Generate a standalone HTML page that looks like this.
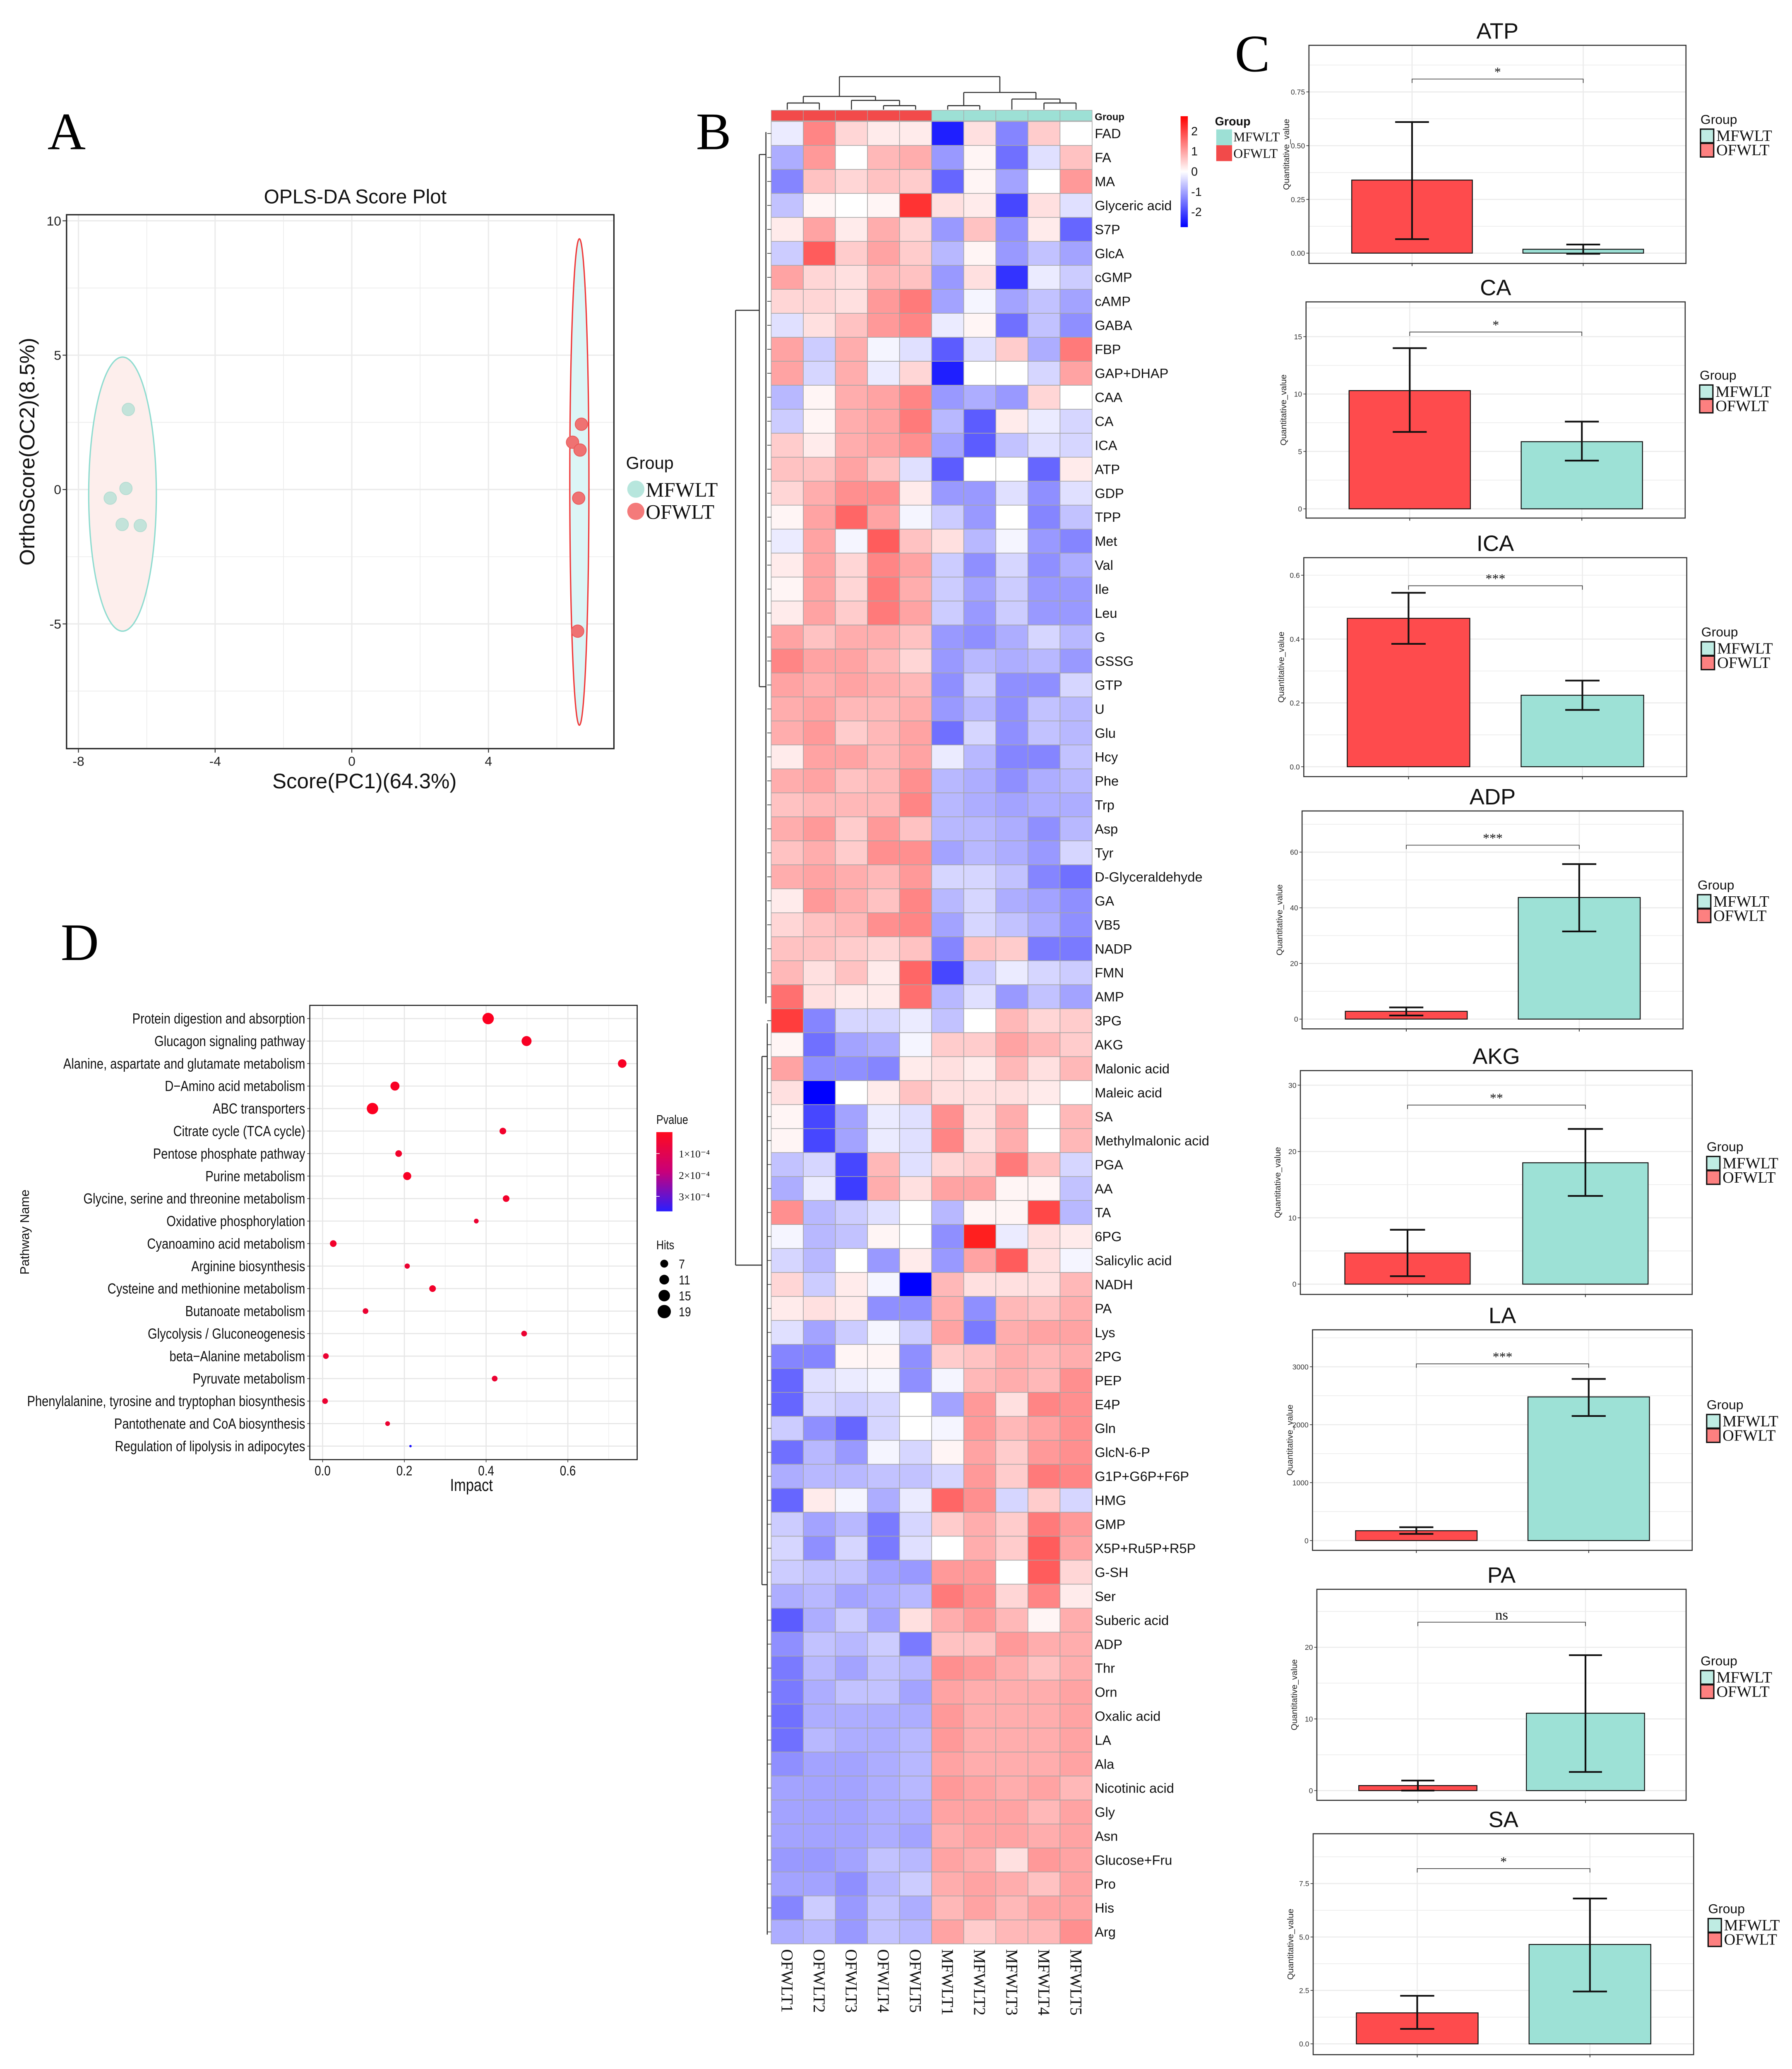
<!DOCTYPE html>
<html><head><meta charset="utf-8"><title>Metabolomics figure</title>
<style>
html,body{margin:0;padding:0;background:#fff;width:4330px;height:5004px;overflow:hidden;}
svg{display:block;}
text{font-family:"Liberation Sans",sans-serif;}
.serif{font-family:"Liberation Serif",serif;}
.narrow{font-family:"Liberation Sans Narrow","Liberation Sans",sans-serif;}
</style></head>
<body>
<svg id="fig" xmlns="http://www.w3.org/2000/svg" width="4330" height="5004" viewBox="0 0 1357 1568" preserveAspectRatio="none">
<rect x="0" y="0" width="1357" height="1568" fill="#fff"/>
<text class="serif" x="36" y="113" font-size="40">A</text>
<text class="serif" x="527" y="113" font-size="40">B</text>
<text class="serif" x="935" y="54" font-size="40">C</text>
<text class="serif" x="46" y="727" font-size="40">D</text>
</svg>
<script>
// ---------- Panel A data ----------
const scoreGroups = ['MFWLT','OFWLT'];
const mfScoreX = [-6.54,-6.61,-7.07,-6.72,-6.19];
const mfScoreY = [2.98,0.04,-0.32,-1.30,-1.34];
const ofScoreX = [6.72,6.46,6.68,6.64,6.61];
const ofScoreY = [2.43,1.76,1.47,-0.32,-5.27];
const scoreXTicks = [-8,-4,0,4];
const scoreYTicks = [10,5,0,-5];

// ---------- Panel B data ----------
const heatCols = ['OFWLT1','OFWLT2','OFWLT3','OFWLT4','OFWLT5','MFWLT1','MFWLT2','MFWLT3','MFWLT4','MFWLT5'];
const heatRows = ['FAD','FA','MA','Glyceric acid','S7P','GlcA','cGMP','cAMP','GABA','FBP','GAP+DHAP','CAA','CA','ICA','ATP','GDP','TPP','Met','Val','Ile','Leu','G','GSSG','GTP','U','Glu','Hcy','Phe','Trp','Asp','Tyr','D-Glyceraldehyde','GA','VB5','NADP','FMN','AMP','3PG','AKG','Malonic acid','Maleic acid','SA','Methylmalonic acid','PGA','AA','TA','6PG','Salicylic acid','NADH','PA','Lys','2PG','PEP','E4P','Gln','GlcN-6-P','G1P+G6P+F6P','HMG','GMP','X5P+Ru5P+R5P','G-SH','Ser','Suberic acid','ADP','Thr','Orn','Oxalic acid','LA','Ala','Nicotinic acid','Gly','Asn','Glucose+Fru','Pro','His','Arg'];
const heatValues = [
[-0.2,1.2,0.4,0.2,0.2,-2.2,0.3,-1.2,0.5,0],
[-0.8,1,0,0.7,0.8,-1,0.1,-1.4,-0.3,0.6],
[-1.2,0.6,0.4,0.6,0.5,-1.5,0.1,-0.9,0,1],
[-0.6,0.1,0,0.1,2,0.3,0.2,-1.8,0.3,-0.3],
[0.2,0.9,0.2,0.8,0.4,-1,0.6,-1.1,0.2,-1.5],
[-0.5,1.6,0.5,0.9,0.5,-0.7,0.1,-1,-0.6,-0.9],
[0.9,0.4,0.3,0.7,0.6,-1,0.3,-2,-0.2,-0.5],
[0.4,0.4,0.3,1,1.3,-0.9,-0.1,-0.9,-0.6,-0.9],
[-0.3,0.3,0.6,1,1.2,-0.2,0.1,-1.4,-0.6,-1.1],
[0.9,-0.5,0.8,-0.1,-0.3,-1.6,-0.3,0.5,-0.8,1.3],
[0.9,-0.4,0.8,-0.2,0.4,-2.2,0,0,-0.4,0.9],
[-0.7,0.1,0.8,0.9,1.2,-1,-0.8,-1,0.4,0],
[-0.5,0.1,0.8,0.9,1.3,-0.7,-1.6,0.2,-0.2,-0.4],
[0.5,0.2,0.8,0.9,1.1,-0.9,-1.6,-0.6,-0.3,-0.4],
[0.6,0.6,0.9,0.6,-0.3,-1.6,0,0,-1.5,0.2],
[0.4,0.8,1.1,1.1,0.2,-1,-1,-0.3,-1.1,-0.3],
[0.1,0.9,1.5,0.9,-0.1,-0.5,-1,0,-1.2,-0.6],
[-0.2,0.9,-0.1,1.6,0.6,0.3,-0.7,-0.1,-1,-1.2],
[0.2,0.9,0.4,1.2,0.9,-0.5,-1.1,-0.4,-1.1,-0.8],
[0.1,0.9,0.4,1.3,0.8,-0.5,-0.9,-0.5,-1,-1],
[0.2,0.9,0.5,1.3,0.9,-0.5,-1,-0.5,-1,-1],
[0.9,0.6,0.8,0.8,0.6,-1,-1.1,-0.8,-0.4,-0.7],
[1.2,0.9,0.9,0.7,0.4,-1,-0.7,-0.8,-0.7,-1],
[0.9,0.8,0.9,0.8,0.7,-1.1,-0.5,-1.1,-1.1,-0.4],
[0.8,0.9,0.7,0.7,0.8,-1,-0.7,-1.1,-0.6,-0.7],
[0.8,1,0.5,0.7,0.9,-1.4,-0.4,-1.1,-0.6,-0.7],
[0.2,0.9,0.9,0.7,0.9,-0.2,-0.7,-1.2,-1.2,-0.6],
[0.8,0.9,0.6,0.7,1.1,-0.7,-0.8,-1.1,-0.8,-0.7],
[0.6,0.7,0.7,0.7,1.2,-0.7,-0.8,-0.9,-0.8,-0.8],
[0.8,1,0.5,1,0.6,-0.7,-0.7,-0.8,-1.1,-0.7],
[0.6,0.8,0.5,1.1,1.1,-0.9,-0.7,-0.8,-1,-0.4],
[0.8,0.9,0.8,0.7,1,-0.4,-0.4,-0.6,-1.2,-1.4],
[0.2,1,0.8,0.6,1.2,-0.7,-0.4,-0.8,-0.9,-1.1],
[0.4,0.6,0.7,1.1,1.2,-0.9,-0.4,-0.6,-0.8,-1.1],
[0.6,0.6,0.5,0.4,0.6,-1.2,0.6,0.5,-1.3,-1.3],
[0.7,0.3,0.6,0.2,1.5,-1.8,-0.5,-0.2,-0.4,-0.5],
[1.4,0.3,0.2,0.2,1.4,-0.7,-0.3,-1,-0.6,-0.9],
[1.9,-1.2,-0.4,-0.4,-0.2,-0.6,0,0.7,0.4,0.5],
[0.1,-1.4,-0.9,-0.8,-0.1,0.5,0.5,0.9,0.7,0.5],
[0.9,-1.1,-1.1,-1.2,0.2,0.3,0.2,0.7,0.3,0.7],
[0.3,-2.5,0,0.2,0.6,0.3,0.3,0.3,0.2,0],
[0.1,-1.8,-0.9,-0.2,-0.3,1.1,0.3,0.8,0,0.7],
[0.1,-1.8,-0.9,-0.2,-0.3,1.2,0.3,0.8,0,0.7],
[-0.6,-0.4,-1.8,0.7,-0.3,0.4,0.5,1.3,0.6,-0.4],
[-0.8,-0.2,-1.9,0.8,0.3,0.9,0.9,0.1,0.1,-0.6],
[1.1,-0.7,-0.5,-0.3,0,-0.7,0.1,0.1,1.8,-0.7],
[-0.1,-0.7,-0.6,0.1,0,-1.1,2.2,-0.2,0.3,0.2],
[-0.4,-0.7,0,-1,0.2,-1,0.9,1.6,0.3,-0.1],
[0.4,-0.5,0.2,-0.1,-2.5,0.7,0.3,0.3,0.3,0.7],
[0.2,0.3,0.2,-1.1,-1.1,0.8,-1.1,0.7,0.6,0.8],
[-0.3,-0.9,-0.5,-0.1,-0.5,0.9,-1.3,0.8,0.9,0.9],
[-1.2,-1.2,0.1,0.1,-1.1,0.5,0.6,0.8,0.7,0.8],
[-1.5,-0.3,-0.2,-0.1,-1.1,-0.1,0.7,0.8,0.7,1.1],
[-1.5,-0.4,-0.5,-0.4,0,-0.9,1,0.3,1.2,1.1],
[-0.5,-1.1,-1.5,-0.4,0,-0.1,1,0.7,0.9,1.1],
[-1.4,-0.7,-1,-0.1,-0.4,0.1,0.9,0.5,1,1.1],
[-0.8,-0.7,-0.7,-0.6,-0.6,-0.4,1,0.5,1.3,1.2],
[-1.5,0.2,-0.1,-0.8,-0.2,1.5,1.1,-0.4,0.5,-0.4],
[-0.5,-0.9,-0.7,-1.3,-0.4,0.5,0.8,0.5,1.3,1],
[-0.4,-1.1,-0.4,-1.3,-0.3,0,0.8,0.5,1.6,0.9],
[-0.5,-0.6,-0.6,-0.9,-1,1,1,0,1.6,0.4],
[-0.8,-0.7,-0.9,-0.8,-0.7,1.3,1.1,0.4,1.2,0.2],
[-1.6,-0.8,-0.5,-0.9,0.3,0.8,1,0.7,0.1,0.8],
[-1.1,-0.6,-0.7,-0.5,-1.3,0.6,0.6,1,0.8,0.8],
[-1.3,-0.7,-0.9,-0.6,-0.7,1.1,1,0.8,0.6,0.8],
[-1.3,-0.8,-0.6,-0.6,-0.9,0.9,0.8,0.8,0.8,0.9],
[-1.4,-0.8,-0.8,-0.8,-0.8,1,0.8,0.8,0.8,0.9],
[-1.4,-0.7,-0.8,-0.8,-0.7,1,0.8,0.8,0.8,0.9],
[-1.1,-0.9,-0.9,-0.8,-0.7,0.9,0.8,0.8,0.8,0.9],
[-0.9,-0.9,-0.9,-0.8,-0.7,1,0.9,0.8,0.9,0.7],
[-0.9,-0.9,-0.9,-0.8,-0.8,0.9,0.9,0.9,0.7,0.9],
[-0.9,-0.9,-0.9,-0.8,-0.9,0.8,0.9,0.9,0.8,0.9],
[-1,-1,-0.9,-0.6,-0.7,0.9,0.8,0.3,1,0.9],
[-0.9,-0.9,-1.1,-0.7,-0.5,0.8,0.9,0.8,0.6,0.9],
[-1.2,-0.5,-1,-0.6,-0.8,0.7,0.9,0.7,0.9,0.9],
[-0.8,-0.7,-1,-0.6,-0.7,0.9,0.5,0.7,0.7,1.1]
];
const heatLegendTicks = [2,1,0,-1,-2];

// ---------- Panel C data ----------
const barMetabolites = ['ATP','CA','ICA','ADP','AKG','LA','PA','SA'];
const ofMean = [0.34,10.3,0.465,2.8,4.7,170,0.7,1.45];
const ofHigh = [0.61,14.0,0.545,4.2,8.2,230,1.4,2.25];
const ofLow  = [0.065,6.7,0.385,1.3,1.2,115,0.0,0.7];
const mfMean = [0.018,5.85,0.224,43.7,18.3,2480,10.8,4.65];
const mfHigh = [0.04,7.6,0.27,55.7,23.4,2790,18.9,6.8];
const mfLow  = [-0.003,4.2,0.178,31.5,13.3,2150,2.6,2.45];
const sigLabels = ['*','*','***','***','**','***','ns','*'];
const sigHeight = [0.81,15.4,0.567,62.5,27,3050,23.5,8.2];
const barTicks = [[0,0.25,0.5,0.75],[0,5,10,15],[0,0.2,0.4,0.6],[0,20,40,60],[0,10,20,30],[0,1000,2000,3000],[0,10,20],[0,2.5,5,7.5]];
const barTickLabels = [['0.00','0.25','0.50','0.75'],['0','5','10','15'],['0.0','0.2','0.4','0.6'],['0','20','40','60'],['0','10','20','30'],['0','1000','2000','3000'],['0','10','20'],['0.0','2.5','5.0','7.5']];

// ---------- Panel D data ----------
const pathways = ['Protein digestion and absorption','Glucagon signaling pathway','Alanine, aspartate and glutamate metabolism','D\u2212Amino acid metabolism','ABC transporters','Citrate cycle (TCA cycle)','Pentose phosphate pathway','Purine metabolism','Glycine, serine and threonine metabolism','Oxidative phosphorylation','Cyanoamino acid metabolism','Arginine biosynthesis','Cysteine and methionine metabolism','Butanoate metabolism','Glycolysis / Gluconeogenesis','beta\u2212Alanine metabolism','Pyruvate metabolism','Phenylalanine, tyrosine and tryptophan biosynthesis','Pantothenate and CoA biosynthesis','Regulation of lipolysis in adipocytes'];
const impacts = [0.405,0.499,0.733,0.177,0.122,0.441,0.186,0.207,0.449,0.376,0.026,0.207,0.269,0.105,0.493,0.008,0.421,0.006,0.159,0.215];
const hits = [19,16,13,14,19,9,9,12,9,5,9,6,9,7,7,7,7,7,5,0];
const pvalues = [0.000005,0.00001,0.00001,0.00001,0.000005,0.00002,0.00002,0.00001,0.00002,0.00003,0.00002,0.00003,0.00002,0.00003,0.00003,0.00003,0.00003,0.00003,0.00003,0.00035];
const impactTicks = [0.0,0.2,0.4,0.6];
const hitsLegend = [7,11,15,19];
const pLegendTicks = [0.0001,0.0002,0.0003];
const pLegendLabels = ['1\u00d710\u207b\u2074','2\u00d710\u207b\u2074','3\u00d710\u207b\u2074'];

const NS='http://www.w3.org/2000/svg';
const svg=document.getElementById('fig');
function mk(parent,tag,attrs,txt){const e=document.createElementNS(NS,tag);for(const k in attrs)e.setAttribute(k,attrs[k]);if(txt!==undefined)e.textContent=txt;parent.appendChild(e);return e;}
const TEAL='#9de0d5';
const NX=0.83; // horizontal condensing factor to mimic narrow font

// ================= PANEL A =================
(function(){
  const g=mk(svg,'g',{});
  
  
  const L=50.4,R=464.9,T=162.6,B=566.9;
  const ax=x=>266.4+x*25.875, ay=y=>370.7-y*20.35;
  const grid=mk(g,'g',{stroke:'#ebebeb'});
  
  
  [-6,-2,2,6].forEach(v=>mk(grid,'line',{x1:ax(v),x2:ax(v),y1:T,y2:B,'stroke-width':0.5}));
  [7.5,2.5,-2.5,-7.5].forEach(v=>mk(grid,'line',{x1:L,x2:R,y1:ay(v),y2:ay(v),'stroke-width':0.5}));
  scoreXTicks.forEach(v=>mk(grid,'line',{x1:ax(v),x2:ax(v),y1:T,y2:B,'stroke-width':1}));
  scoreYTicks.forEach(v=>mk(grid,'line',{x1:L,x2:R,y1:ay(v),y2:ay(v),'stroke-width':1}));
  const e1=mk(g,'ellipse',{cx:ax(-6.71),cy:ay(-0.17),rx:0.99*25.875,ry:5.1*20.35,fill:'#fdeeec',stroke:'#8fdcd0','stroke-width':1});
  
  
  const e2=mk(g,'ellipse',{cx:ax(6.66),cy:ay(0.28),rx:0.28*25.875,ry:9.05*20.35,fill:'#dcf5f6',stroke:'#f03a3a','stroke-width':1});
  
  
  mfScoreX.forEach((x,i)=>{
    const c=mk(g,'circle',{cx:ax(x),cy:ay(mfScoreY[i]),r:4.7,fill:'#c3e3da',stroke:'#b5dcd2','stroke-width':0.6});
    
    
  });
  ofScoreX.forEach((x,i)=>{
    const c=mk(g,'circle',{cx:ax(x),cy:ay(ofScoreY[i]),r:4.7,fill:'#ef7272',stroke:'#e85a5a','stroke-width':0.6});
    
    
  });
  const box=mk(g,'rect',{x:L,y:T,width:R-L,height:B-T,fill:'none',stroke:'#222','stroke-width':1});
  
  
  scoreXTicks.forEach(v=>{
    mk(g,'line',{x1:ax(v),x2:ax(v),y1:B,y2:B+3,stroke:'#333','stroke-width':0.7});
    const t=mk(g,'text',{x:ax(v),y:B+13,'font-size':10,'text-anchor':'middle',fill:'#222'},String(v));
    
    
  });
  scoreYTicks.forEach(v=>{
    mk(g,'line',{x1:L-3,x2:L,y1:ay(v),y2:ay(v),stroke:'#333','stroke-width':0.7});
    const t=mk(g,'text',{x:L-4,y:ay(v)+3.5,'font-size':10,'text-anchor':'end',fill:'#222'},String(v));
    
    
  });
  const ti=mk(g,'text',{x:269,y:154,'font-size':15,'text-anchor':'middle',fill:'#111'},'OPLS-DA Score Plot');
  
  
  const xt=mk(g,'text',{x:276,y:597,'font-size':16,'text-anchor':'middle',fill:'#111'},'Score(PC1)(64.3%)');
  
  
  const yt=mk(g,'text',{x:0,y:0,'font-size':16,'text-anchor':'middle',fill:'#111',transform:'translate(26,342) rotate(-90)'},'OrthoScore(OC2)(8.5%)');
  
  
  const lg=mk(g,'g',{});
  
  
  mk(lg,'text',{x:474,y:355,'font-size':13,fill:'#111'},'Group');
  const cols=['#b7e6dd','#f47a7a'];
  scoreGroups.forEach((n,i)=>{
    const c=mk(lg,'circle',{cx:481.5,cy:370.4+i*16.8,r:6.5,fill:cols[i]});
    
    
    const t=mk(lg,'text',{x:489,y:376+i*16.8,'font-size':15.5,fill:'#111',class:'serif'},n);
    
    
  });
})();

// ================= PANEL B =================
(function(){
  const g=mk(svg,'g',{});
  
  
  const x0=584,y0=92,cw=24.3,ch=1380/76;
  function col(v){const t=Math.min(Math.abs(v)/2.5,1);const c=Math.round(255*(1-t));return v>=0?`rgb(255,${c},${c})`:`rgb(${c},${c},255)`;}
  heatValues.forEach((row,r)=>{
    row.forEach((v,c)=>{
      const rc=mk(g,'rect',{x:x0+c*cw,y:y0+r*ch,width:cw,height:ch,fill:col(v),stroke:'#a6a6a6','stroke-width':0.5});
      
      
    });
    const t=mk(g,'text',{x:829,y:y0+r*ch+ch/2+3.6,'font-size':10.2,fill:'#111'},heatRows[r]);
    
    
  });
  heatCols.forEach((n,c)=>{
    const a=mk(g,'rect',{x:x0+c*cw,y:83.5,width:cw,height:8,fill:c<5?'#f24a4a':TEAL,stroke:'#a6a6a6','stroke-width':0.4});
    
    
    const t=mk(g,'text',{x:0,y:0,'font-size':12.5,fill:'#111',class:'serif',transform:`translate(${x0+c*cw+cw/2-4.3},1476) rotate(90)`},n);
    
    
  });
  const gl=mk(g,'text',{x:829,y:91,'font-size':7.5,'font-weight':'bold',fill:'#111'},'Group');
  
  
  const d=mk(g,'g',{stroke:'#333','stroke-width':0.8,fill:'none'});
  
  
  const cx=i=>x0+i*cw+cw/2;
  const segs=[
    [cx(0),83,cx(0),78],[cx(1),83,cx(1),78],[cx(0),78,cx(1),78],
    [cx(3),83,cx(3),80],[cx(4),83,cx(4),80],[cx(3),80,cx(4),80],
    [cx(2),83,cx(2),76],[(cx(3)+cx(4))/2,80,(cx(3)+cx(4))/2,76],[cx(2),76,(cx(3)+cx(4))/2,76],
    [(cx(0)+cx(1))/2,78,(cx(0)+cx(1))/2,73],[(cx(2)+cx(3.5))/2,76,(cx(2)+cx(3.5))/2,73],[(cx(0)+cx(1))/2,73,(cx(2)+cx(3.5))/2,73],
    [cx(5),83,cx(5),80],[cx(6),83,cx(6),80],[cx(5),80,cx(6),80],
    [cx(8),83,cx(8),78],[cx(9),83,cx(9),78],[cx(8),78,cx(9),78],
    [cx(7),83,cx(7),75],[cx(8.5),78,cx(8.5),75],[cx(7),75,cx(8.5),75],
    [cx(5.5),80,cx(5.5),70],[(cx(7)+cx(8.5))/2,75,(cx(7)+cx(8.5))/2,70],[cx(5.5),70,(cx(7)+cx(8.5))/2,70],
    [(cx(0.5)+cx(2.75))/2,73,(cx(0.5)+cx(2.75))/2,58],[(cx(5.5)+cx(7.75))/2,70,(cx(5.5)+cx(7.75))/2,58],[(cx(0.5)+cx(2.75))/2,58,(cx(5.5)+cx(7.75))/2,58],
    [557,235,557,958],[557,235,575,235],[557,958,577,958],
    [575,117,575,520],[575,117,580,117],[575,520,580,520],[580,100,580,760],
    [577,800,577,1200],[577,800,581,800],[577,1200,581,1200],[581,775,581,1465]
  ];
  segs.forEach(s=>mk(d,'line',{x1:s[0],y1:s[1],x2:s[2],y2:s[3]}));
  for(let r=0;r<76;r++){mk(d,'line',{x1:581,x2:584,y1:y0+r*ch+ch/2,y2:y0+r*ch+ch/2,'stroke-width':0.5});}
  const defs=mk(svg,'defs',{});
  const lgd=mk(defs,'linearGradient',{id:'hg',x1:0,y1:0,x2:0,y2:1});
  mk(lgd,'stop',{offset:'0','stop-color':'#ff0000'});
  mk(lgd,'stop',{offset:'0.5','stop-color':'#ffffff'});
  mk(lgd,'stop',{offset:'1','stop-color':'#0000ff'});
  const cb=mk(g,'rect',{x:894,y:88,width:5.5,height:84,fill:'url(#hg)'});
  
  
  heatLegendTicks.forEach(v=>{
    const t=mk(g,'text',{x:902,y:130-v*15.3+3,'font-size':9,fill:'#111'},String(v));
    
    
  });
  const hg=mk(g,'text',{x:920,y:95,'font-size':9,'font-weight':'bold',fill:'#111'},'Group');
  
  
  ['MFWLT','OFWLT'].forEach((n,i)=>{
    const r=mk(g,'rect',{x:921,y:98+i*12,width:12,height:12,fill:i?'#f24a4a':TEAL});
    
    
    const t=mk(g,'text',{x:934,y:107+i*12.5,'font-size':10,class:'serif',fill:'#111'},n);
    
    
  });
})();

// ================= PANEL C =================
(function(){
  const boxes=[[991.2,34.3,1276.7,199.5],[989,228.6,1276.1,392.3],[987.3,422.3,1277.3,588.1],[986,614.1,1274.5,779.1],[984.7,810.7,1281.4,980.2],[993.9,1007,1281.4,1174],[997.2,1203.5,1276.8,1363.3],[994.4,1388.6,1282.5,1555.9]];
  const domains=[[-0.048,0.967],[-0.805,18.03],[-0.031,0.655],[-3.51,74.8],[-1.55,32.2],[-169,3638],[-1.36,28.09],[-0.506,9.83]];
  barMetabolites.forEach((m,i)=>{
    const [L,T,R,B]=boxes[i];const [d0,d1]=domains[i];
    const y=v=>B-(v-d0)/(d1-d0)*(B-T);
    const w=R-L;const cx=[L+w*0.2735,L+w*0.7275];const hw=w*0.16;
    const g=mk(svg,'g',{});
    
    
    const ticks=barTicks[i];
    const step=ticks[1]-ticks[0];
    for(let v=ticks[0]-step/2;v<=d1;v+=step/2){ if(v>=d0) mk(g,'line',{x1:L,x2:R,y1:y(v),y2:y(v),stroke:'#ebebeb','stroke-width':Math.abs((v/step)%1)<1e-6?0.8:0.5}); }
    cx.forEach(c=>mk(g,'line',{x1:c,x2:c,y1:T,y2:B,stroke:'#ebebeb','stroke-width':0.8}));
    const means=[ofMean[i],mfMean[i]],his=[ofHigh[i],mfHigh[i]],los=[ofLow[i],mfLow[i]];
    means.forEach((v,k)=>{
      const b=mk(g,'rect',{x:cx[k]-hw,y:Math.min(y(v),y(0)),width:2*hw,height:Math.abs(y(0)-y(v)),fill:k?'#9de1d6':'#fe4b4d',stroke:'#111','stroke-width':0.7});
      
      
      const e=mk(g,'path',{d:`M${cx[k]},${y(his[k])}V${y(los[k])}M${cx[k]-hw*0.28},${y(his[k])}H${cx[k]+hw*0.28}M${cx[k]-hw*0.28},${y(los[k])}H${cx[k]+hw*0.28}`,stroke:'#111','stroke-width':1.3,fill:'none'});
      
      
    });
    const br=mk(g,'path',{d:`M${cx[0]},${y(sigHeight[i])+3}V${y(sigHeight[i])}H${cx[1]}V${y(sigHeight[i])+3}`,stroke:'#333','stroke-width':0.5,fill:'none'});
    
    
    const st=mk(g,'text',{x:(cx[0]+cx[1])/2,y:y(sigHeight[i])-2,'font-size':sigLabels[i]==='ns'?11:10,'text-anchor':'middle',class:'serif',fill:'#111'},sigLabels[i]);
    
    
    const fr=mk(g,'rect',{x:L,y:T,width:w,height:B-T,fill:'none',stroke:'#333','stroke-width':0.8});
    
    
    cx.forEach(c=>mk(g,'line',{x1:c,x2:c,y1:B,y2:B+2,stroke:'#333','stroke-width':0.6}));
    ticks.forEach((v,k)=>{
      mk(g,'line',{x1:L-2,x2:L,y1:y(v),y2:y(v),stroke:'#333','stroke-width':0.5});
      const t=mk(g,'text',{x:L-3,y:y(v)+2,'font-size':5.5,'text-anchor':'end',fill:'#333'},barTickLabels[i][k]);
      
      
    });
    const yl=mk(g,'text',{x:0,y:0,'font-size':6.5,'text-anchor':'middle',fill:'#222',transform:`translate(${L-15},${(T+B)/2}) rotate(-90)`},'Quantitative_value');
    
    
    const ti=mk(g,'text',{x:(L+R)/2,y:T-5,'font-size':17,'text-anchor':'middle',fill:'#111'},m);
    
    
    const gy=T+(B-T)*0.36;
    const lg=mk(g,'g',{});
    
    
    mk(lg,'text',{x:R+11,y:gy,'font-size':10,fill:'#111'},'Group');
    ['MFWLT','OFWLT'].forEach((n,k)=>{
      const r=mk(lg,'rect',{x:R+11,y:gy+4+k*10.8,width:10,height:10.3,fill:k?'#fd8080':'#bfece3',stroke:'#111','stroke-width':1});
      
      
      const t=mk(lg,'text',{x:R+23,y:gy+13+k*10.8,'font-size':12,class:'serif',fill:'#111'},n);
      
      
    });
  });
})();

// ================= PANEL D =================
(function(){
  const g=mk(svg,'g',{});
  
  
  const L=234.6,R=482.5,T=761.3,B=1105.3;
  const ax=v=>244.3+v*309.5;
  const ay=i=>771.3+i*17.04;
  [0.1,0.3,0.5,0.7].forEach(v=>mk(g,'line',{x1:ax(v),x2:ax(v),y1:T,y2:B,stroke:'#f0f0f0','stroke-width':0.5}));
  impactTicks.forEach(v=>mk(g,'line',{x1:ax(v),x2:ax(v),y1:T,y2:B,stroke:'#e6e6e6','stroke-width':0.8}));
  pathways.forEach((p,i)=>{
    mk(g,'line',{x1:L,x2:R,y1:ay(i),y2:ay(i),stroke:'#e6e6e6','stroke-width':0.8});
    mk(g,'line',{x1:L-2,x2:L,y1:ay(i),y2:ay(i),stroke:'#333','stroke-width':0.5});
    const t=mk(g,'text',{x:0,y:0,'font-size':11,'text-anchor':'end',class:'narrow',fill:'#111',transform:`translate(${L-3.5},${ay(i)+3.8}) scale(${NX},1)`},p);
    
    
  });
  function pcol(p){const t=Math.min(p/0.00035,1);return `rgb(${Math.round(255-235*t)},${Math.round(10*t)},${Math.round(30+225*t)})`;}
  impacts.forEach((v,i)=>{
    const c=mk(g,'circle',{cx:ax(v),cy:ay(i),r:0.9+0.18*hits[i],fill:pcol(pvalues[i])});
    
    
  });
  const fr=mk(g,'rect',{x:L,y:T,width:R-L,height:B-T,fill:'none',stroke:'#222','stroke-width':0.8});
  
  
  impactTicks.forEach(v=>{
    mk(g,'line',{x1:ax(v),x2:ax(v),y1:B,y2:B+2,stroke:'#333','stroke-width':0.5});
    const t=mk(g,'text',{x:0,y:0,'font-size':10.5,'text-anchor':'middle',class:'narrow',fill:'#111',transform:`translate(${ax(v)},${B+12}) scale(${NX},1)`},v.toFixed(1));
    
    
  });
  const xt=mk(g,'text',{x:0,y:0,'font-size':13,'text-anchor':'middle',class:'narrow',fill:'#111',transform:`translate(357,1129) scale(${NX},1)`},'Impact');
  
  
  const yt=mk(g,'text',{x:0,y:0,'font-size':9.5,'text-anchor':'middle',fill:'#111',transform:'translate(22,933) rotate(-90)'},'Pathway Name');
  
  
  const defs=mk(svg,'defs',{});
  const lgd=mk(defs,'linearGradient',{id:'pg',x1:0,y1:0,x2:0,y2:1});
  mk(lgd,'stop',{offset:'0','stop-color':'#ff0a1e'});
  mk(lgd,'stop',{offset:'0.5','stop-color':'#c8007a'});
  mk(lgd,'stop',{offset:'1','stop-color':'#2a1eff'});
  const pt=mk(g,'text',{x:0,y:0,'font-size':9.5,class:'narrow',fill:'#111',transform:`translate(497,851) scale(${NX},1)`},'Pvalue');
  
  
  const cb=mk(g,'rect',{x:497,y:857.3,width:12.2,height:60,fill:'url(#pg)'});
  
  
  pLegendTicks.forEach((p,k)=>{
    const yy=857.3+p/0.00037*60;
    mk(g,'line',{x1:497,x2:499.5,y1:yy,y2:yy,stroke:'#fff','stroke-width':0.5});
    const t=mk(g,'text',{x:514,y:yy+3,'font-size':8,class:'serif',fill:'#111'},pLegendLabels[k]);
    
    
  });
  const ht=mk(g,'text',{x:0,y:0,'font-size':9.5,class:'narrow',fill:'#111',transform:`translate(497,946) scale(${NX},1)`},'Hits');
  
  
  hitsLegend.forEach((h,k)=>{
    const c=mk(g,'circle',{cx:503,cy:956.9+k*12.1,r:1.8+0.17*h,fill:'#000'});
    
    
    const t=mk(g,'text',{x:0,y:0,'font-size':10,class:'narrow',fill:'#111',transform:`translate(514,${960.5+k*12.1}) scale(${NX},1)`},String(h));
    
    
  });
})();
</script>
</body></html>
